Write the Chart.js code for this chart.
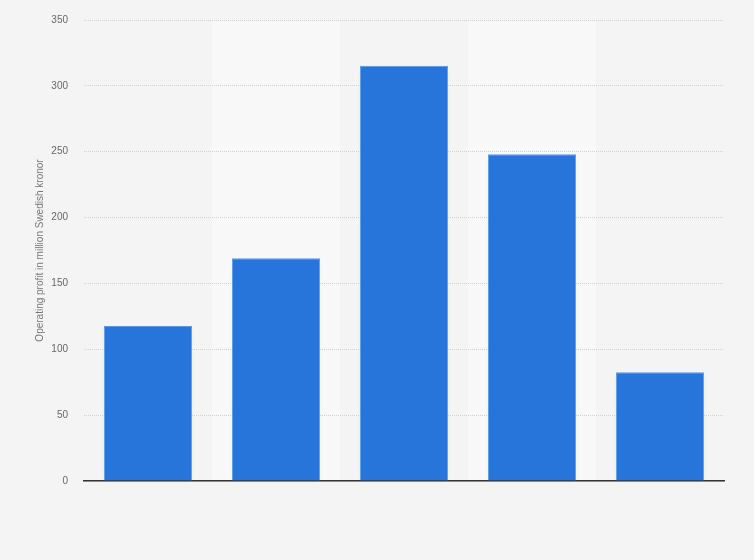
<!DOCTYPE html>
<html>
<head>
<meta charset="utf-8">
<script src="https://cdn.jsdelivr.net/npm/chart.js@4/dist/chart.umd.min.js"></script>
<style>
  html, body { margin: 0; padding: 0; background: #f4f4f4; }
  #wrap { width: 754px; height: 560px; }
</style>
</head>
<body>
<div id="wrap"><canvas id="chart"></canvas></div>
<script>
// --- données ---
const categories = ['2015', '2016', '2017', '2018', '2019'];
const profitValues = [117.7, 169.1, 315.2, 248.1, 82.6];
const yTicks = [0, 50, 100, 150, 200, 250, 300, 350];

// bandes claires derrière une catégorie sur deux (dessinées avant les axes)
const bandPlugin = {
    id: 'bands',
    beforeDraw(chart) {
        const { ctx, chartArea, scales } = chart;
        const x = scales.x;
        const step = (chartArea.right - chartArea.left) / categories.length;
        ctx.save();
        ctx.fillStyle = '#f8f8f8';
        categories.forEach((c, i) => {
            if (i % 2 === 1) {
                const cx = x.getPixelForValue(i);
                ctx.fillRect(cx - step / 2, chartArea.top, step, chartArea.bottom - chartArea.top);
            }
        });
        ctx.restore();
    }
};

new Chart(document.getElementById('chart'), {
    type: 'bar',
    data: {
        labels: categories,
        datasets: [{
            data: profitValues,
            backgroundColor: '#2775db',
            borderColor: '#5a97e6',
            borderWidth: 1,
            barPercentage: 0.69,
            categoryPercentage: 1
        }]
    },
    options: {
        responsive: true,
        maintainAspectRatio: false,
        animation: false,
        layout: { padding: { top: 20, right: 30, left: 0, bottom: 0 } },
        plugins: {
            legend: { display: false },
            tooltip: { enabled: false }
        },
        scales: {
            x: {
                grid: { display: false },
                ticks: { display: false },
                border: { display: true, color: '#333333', width: 1.5 },
                afterFit: s => { s.height = 79; }
            },
            y: {
                min: 0,
                max: 350,
                afterBuildTicks: s => { s.ticks = yTicks.map(v => ({ value: v })); },
                grid: {
                    color: '#d0d0d0',
                    drawTicks: false
                },
                border: { display: false, dash: [1, 1] },
                ticks: {
                    color: '#666666',
                    padding: 16,
                    font: { family: 'Liberation Sans', size: 10 }
                },
                title: {
                    display: true,
                    text: 'Operating profit in million Swedish kronor',
                    color: '#777777',
                    font: { family: 'Liberation Sans', size: 10 },
                    padding: { top: 34, bottom: 0 }
                },
                afterFit: s => {
                    s.width = 84;
                    s.paddingTop = 0;
                    s.paddingBottom = 0;
                }
            }
        }
    },
    plugins: [bandPlugin]
});
</script>
</body>
</html>
